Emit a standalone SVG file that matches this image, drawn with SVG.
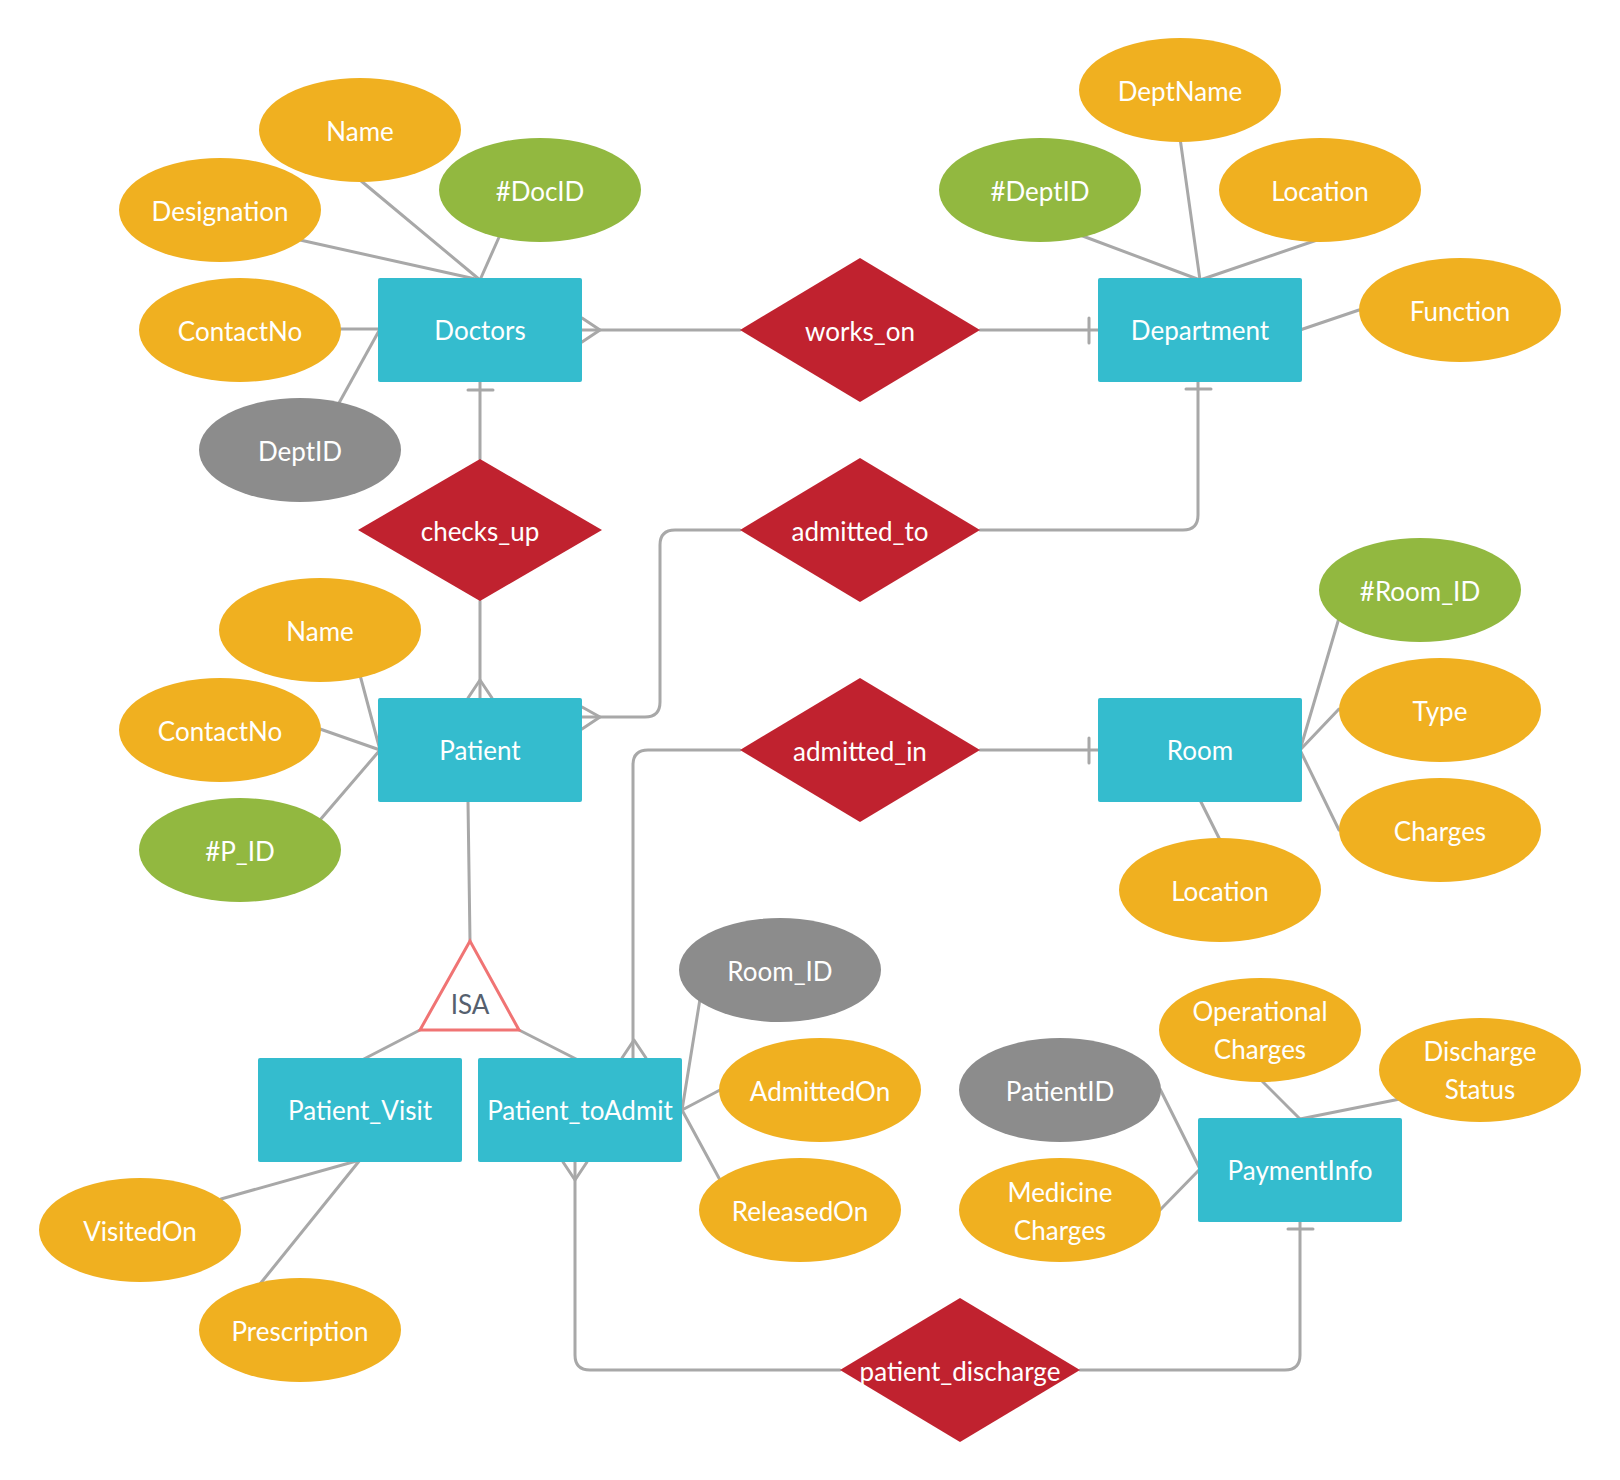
<svg xmlns="http://www.w3.org/2000/svg" width="1620" height="1480" viewBox="0 0 1620 1480">
<style>
.ent{fill:#34BCCE}
.rel{fill:#C0222F}
.att{fill:#F0B020}
.key{fill:#92B840}
.fk{fill:#8C8C8C}
.t{font-family:Lato,"Liberation Sans",sans-serif;font-size:26px;fill:#FFFFFF;text-anchor:middle;dominant-baseline:central}
.isa{font-family:Lato,"Liberation Sans",sans-serif;font-size:26px;fill:#56606E;text-anchor:middle;dominant-baseline:central}
.c{fill:none;stroke:#A8A8A8;stroke-width:3;stroke-linecap:round;stroke-linejoin:round}
</style>
<rect width="1620" height="1480" fill="#FFFFFF"/>
<g id="connectors" class="c">
<!-- Doctors attributes -->
<line x1="360" y1="180" x2="480" y2="280"/>
<line x1="300" y1="240" x2="480" y2="280"/>
<line x1="500" y1="235" x2="480" y2="280"/>
<line x1="339" y1="329" x2="380" y2="329"/>
<line x1="339" y1="403" x2="380" y2="329"/>
<!-- Department attributes -->
<line x1="1180" y1="138" x2="1200" y2="280"/>
<line x1="1080" y1="235" x2="1200" y2="280"/>
<line x1="1320" y1="239" x2="1200" y2="280"/>
<line x1="1359" y1="310" x2="1300" y2="330"/>
<!-- Patient attributes -->
<line x1="360" y1="675" x2="380" y2="750"/>
<line x1="320" y1="729" x2="380" y2="750"/>
<line x1="320" y1="820" x2="380" y2="750"/>
<!-- Room attributes -->
<line x1="1339" y1="618" x2="1300" y2="750"/>
<line x1="1339" y1="709" x2="1300" y2="750"/>
<line x1="1339" y1="830" x2="1300" y2="750"/>
<line x1="1199" y1="798" x2="1220" y2="840"/>
<!-- Patient_toAdmit attributes -->
<line x1="700" y1="999" x2="682" y2="1110"/>
<line x1="720" y1="1090" x2="682" y2="1110"/>
<line x1="720" y1="1180" x2="682" y2="1110"/>
<!-- Patient_Visit attributes -->
<line x1="221" y1="1199" x2="360" y2="1160"/>
<line x1="260" y1="1284" x2="360" y2="1160"/>
<!-- PaymentInfo attributes -->
<line x1="1160" y1="1089" x2="1200" y2="1169"/>
<line x1="1160" y1="1210" x2="1200" y2="1169"/>
<line x1="1259" y1="1078" x2="1300" y2="1119"/>
<line x1="1400" y1="1099" x2="1300" y2="1119"/>
<!-- ISA -->
<line x1="468" y1="802" x2="470" y2="941"/>
<line x1="420" y1="1030" x2="360" y2="1061"/>
<line x1="519" y1="1030" x2="580" y2="1061"/>
<!-- works_on -->
<line x1="582" y1="330" x2="740" y2="330"/>
<polyline points="582,318 600,330 582,342"/>
<line x1="980" y1="330" x2="1098" y2="330"/>
<line x1="1089" y1="318" x2="1089" y2="343"/>
<!-- checks_up -->
<line x1="480" y1="382" x2="480" y2="459"/>
<line x1="468" y1="390" x2="493" y2="390"/>
<line x1="480" y1="601" x2="480" y2="698"/>
<polyline points="468,698 480,680 492,698"/>
<!-- admitted_to -->
<path d="M582 717 H645 Q660 717 660 702 V545 Q660 530 675 530 H740"/>
<polyline points="582,707 600,717 582,729"/>
<path d="M980 530 H1183 Q1198 530 1198 515 V382"/>
<line x1="1186" y1="389" x2="1211" y2="389"/>
<!-- admitted_in -->
<line x1="980" y1="750" x2="1098" y2="750"/>
<line x1="1089" y1="738" x2="1089" y2="763"/>
<path d="M740 750 H648 Q633 750 633 765 V1058"/>
<polyline points="622,1058 634,1040 646,1058"/>
<!-- patient_discharge -->
<path d="M575 1162 V1355 Q575 1370 590 1370 H840"/>
<polyline points="563,1162 575,1180 587,1162"/>
<path d="M1080 1370 H1285 Q1300 1370 1300 1355 V1222"/>
<line x1="1288" y1="1229" x2="1313" y2="1229"/>
</g>
<g id="isa">
<polygon points="470,941 420,1030 519,1030" fill="#FFFFFF" stroke="#F07474" stroke-width="3"/>
<text class="isa" x="470" y="1004">ISA</text>
</g>
<g id="doctors"><rect class="ent" x="378" y="278" width="204" height="104" rx="2"/><text class="t" x="480" y="330">Doctors</text></g>
<g id="department"><rect class="ent" x="1098" y="278" width="204" height="104" rx="2"/><text class="t" x="1200" y="330">Department</text></g>
<g id="patient"><rect class="ent" x="378" y="698" width="204" height="104" rx="2"/><text class="t" x="480" y="750">Patient</text></g>
<g id="room"><rect class="ent" x="1098" y="698" width="204" height="104" rx="2"/><text class="t" x="1200" y="750">Room</text></g>
<g id="patient_visit"><rect class="ent" x="258" y="1058" width="204" height="104" rx="2"/><text class="t" x="360" y="1110">Patient_Visit</text></g>
<g id="patient_toadmit"><rect class="ent" x="478" y="1058" width="204" height="104" rx="2"/><text class="t" x="580" y="1110">Patient_toAdmit</text></g>
<g id="paymentinfo"><rect class="ent" x="1198" y="1118" width="204" height="104" rx="2"/><text class="t" x="1300" y="1170">PaymentInfo</text></g>
<g id="works_on"><polygon class="rel" points="740,330 860,258 980,330 860,402"/><text class="t" x="860" y="331">works_on</text></g>
<g id="checks_up"><polygon class="rel" points="358,530 480,459 602,530 480,601"/><text class="t" x="480" y="531">checks_up</text></g>
<g id="admitted_to"><polygon class="rel" points="740,530 860,458 980,530 860,602"/><text class="t" x="860" y="531">admitted_to</text></g>
<g id="admitted_in"><polygon class="rel" points="740,750 860,678 980,750 860,822"/><text class="t" x="860" y="751">admitted_in</text></g>
<g id="patient_discharge"><polygon class="rel" points="840,1370 960,1298 1080,1370 960,1442"/><text class="t" x="960" y="1371">patient_discharge</text></g>
<g id="doc_name"><ellipse class="att" cx="360" cy="130" rx="101" ry="52"/><text class="t" x="360" y="131">Name</text></g>
<g id="doc_designation"><ellipse class="att" cx="220" cy="210" rx="101" ry="52"/><text class="t" x="220" y="211">Designation</text></g>
<g id="doc_docid"><ellipse class="key" cx="540" cy="190" rx="101" ry="52"/><text class="t" x="540" y="191">#DocID</text></g>
<g id="doc_contactno"><ellipse class="att" cx="240" cy="330" rx="101" ry="52"/><text class="t" x="240" y="331">ContactNo</text></g>
<g id="doc_deptid"><ellipse class="fk" cx="300" cy="450" rx="101" ry="52"/><text class="t" x="300" y="451">DeptID</text></g>
<g id="dept_deptname"><ellipse class="att" cx="1180" cy="90" rx="101" ry="52"/><text class="t" x="1180" y="91">DeptName</text></g>
<g id="dept_deptid"><ellipse class="key" cx="1040" cy="190" rx="101" ry="52"/><text class="t" x="1040" y="191">#DeptID</text></g>
<g id="dept_location"><ellipse class="att" cx="1320" cy="190" rx="101" ry="52"/><text class="t" x="1320" y="191">Location</text></g>
<g id="dept_function"><ellipse class="att" cx="1460" cy="310" rx="101" ry="52"/><text class="t" x="1460" y="311">Function</text></g>
<g id="pat_name"><ellipse class="att" cx="320" cy="630" rx="101" ry="52"/><text class="t" x="320" y="631">Name</text></g>
<g id="pat_contactno"><ellipse class="att" cx="220" cy="730" rx="101" ry="52"/><text class="t" x="220" y="731">ContactNo</text></g>
<g id="pat_pid"><ellipse class="key" cx="240" cy="850" rx="101" ry="52"/><text class="t" x="240" y="851">#P_ID</text></g>
<g id="room_roomid"><ellipse class="key" cx="1420" cy="590" rx="101" ry="52"/><text class="t" x="1420" y="591">#Room_ID</text></g>
<g id="room_type"><ellipse class="att" cx="1440" cy="710" rx="101" ry="52"/><text class="t" x="1440" y="711">Type</text></g>
<g id="room_charges"><ellipse class="att" cx="1440" cy="830" rx="101" ry="52"/><text class="t" x="1440" y="831">Charges</text></g>
<g id="room_location"><ellipse class="att" cx="1220" cy="890" rx="101" ry="52"/><text class="t" x="1220" y="891">Location</text></g>
<g id="adm_roomid"><ellipse class="fk" cx="780" cy="970" rx="101" ry="52"/><text class="t" x="780" y="971">Room_ID</text></g>
<g id="adm_admittedon"><ellipse class="att" cx="820" cy="1090" rx="101" ry="52"/><text class="t" x="820" y="1091">AdmittedOn</text></g>
<g id="adm_releasedon"><ellipse class="att" cx="800" cy="1210" rx="101" ry="52"/><text class="t" x="800" y="1211">ReleasedOn</text></g>
<g id="visit_visitedon"><ellipse class="att" cx="140" cy="1230" rx="101" ry="52"/><text class="t" x="140" y="1231">VisitedOn</text></g>
<g id="visit_prescription"><ellipse class="att" cx="300" cy="1330" rx="101" ry="52"/><text class="t" x="300" y="1331">Prescription</text></g>
<g id="pay_patientid"><ellipse class="fk" cx="1060" cy="1090" rx="101" ry="52"/><text class="t" x="1060" y="1091">PatientID</text></g>
<g id="pay_medicine"><ellipse class="att" cx="1060" cy="1210" rx="101" ry="52"/><text class="t" x="1060" y="1192">Medicine</text><text class="t" x="1060" y="1230">Charges</text></g>
<g id="pay_operational"><ellipse class="att" cx="1260" cy="1030" rx="101" ry="52"/><text class="t" x="1260" y="1011">Operational</text><text class="t" x="1260" y="1049">Charges</text></g>
<g id="pay_discharge"><ellipse class="att" cx="1480" cy="1070" rx="101" ry="52"/><text class="t" x="1480" y="1051">Discharge</text><text class="t" x="1480" y="1089">Status</text></g>
</svg>
